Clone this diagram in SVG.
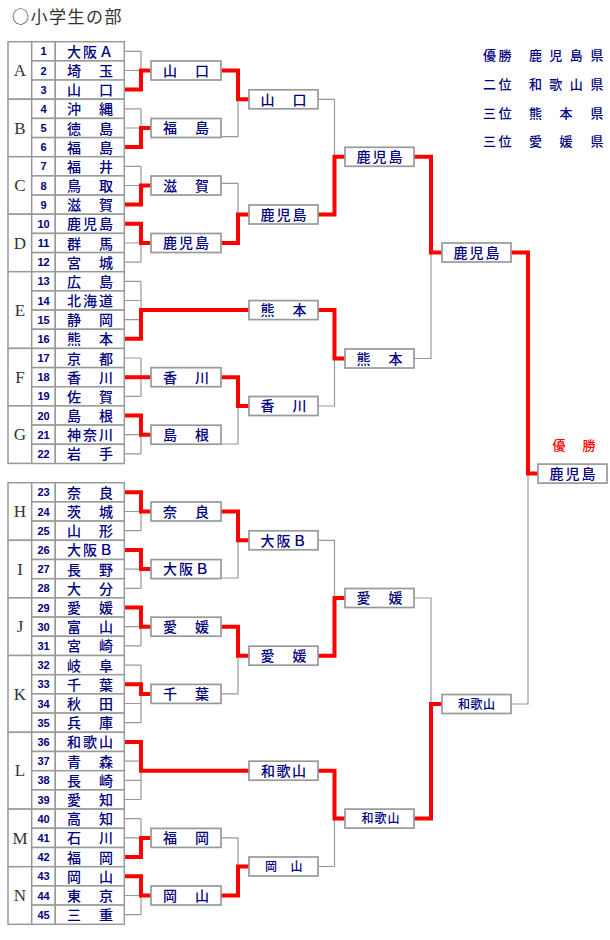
<svg xmlns="http://www.w3.org/2000/svg" width="610" height="940" viewBox="0 0 610 940">
<style>
.cell{fill:#fff;stroke:#999;stroke-width:1.5}
.box{fill:#fff;stroke:#999;stroke-width:1.7}
.num{font-family:"Liberation Sans",Arial,sans-serif;font-size:11px;font-weight:bold;fill:#000080;text-anchor:middle}
.nm{font-family:"Noto Sans CJK JP","Noto Sans CJK SC",sans-serif;font-size:14px;font-weight:500;fill:#000080;text-anchor:middle}
.sm{font-family:"Noto Sans CJK JP","Noto Sans CJK SC",sans-serif;font-size:12px;font-weight:500;fill:#000080;text-anchor:middle}
.grp{font-family:"Liberation Serif","Times New Roman",serif;font-size:17px;fill:#333;text-anchor:middle}
.lg{font-family:"Noto Sans CJK JP","Noto Sans CJK SC",sans-serif;font-size:13px;font-weight:500;fill:#000080;text-anchor:middle}
.g{fill:none;stroke:#999;stroke-width:1.2}
.r{fill:none;stroke:#f00;stroke-width:4;stroke-linejoin:miter}
</style>
<rect width="610" height="940" fill="#fff"/>
<text x="12" y="23" font-family="'Noto Sans CJK JP','Noto Sans CJK SC',sans-serif" font-size="17" letter-spacing="1.5" fill="#333">○小学生の部</text>
<g id="legend">
<text class="lg" y="60"><tspan x="489.5 505">優勝</tspan><tspan x="535.5 555.8 576.2 597">鹿児島県</tspan></text>
<text class="lg" y="89"><tspan x="489.5 505">二位</tspan><tspan x="535.5 555.8 576.2 597">和歌山県</tspan></text>
<text class="lg" y="118"><tspan x="489.5 505">三位</tspan><tspan x="535.5 566 597">熊本県</tspan></text>
<text class="lg" y="146"><tspan x="489.5 505">三位</tspan><tspan x="535.5 566 597">愛媛県</tspan></text>
</g>
<g id="connectors">
<path class="g" d="M124 51.3H141M124 70.5H141M124 89.6H141M141 51.3V89.6"/>
<path class="g" d="M124 108.8H141M124 128H141M124 147.1H141M141 108.8V147.1"/>
<path class="g" d="M124 166.3H141M124 185.5H141M124 204.6H141M141 166.3V204.6"/>
<path class="g" d="M124 223.8H141M124 243H141M124 262.2H141M141 223.8V262.2"/>
<path class="g" d="M124 281.3H141M124 300.5H141M124 319.7H141M124 338.8H141M141 281.3V338.8"/>
<path class="g" d="M124 358H141M124 377.2H141M124 396.3H141M141 358V396.3"/>
<path class="g" d="M124 415.5H141M124 434.7H141M124 453.9H141M141 415.5V453.9"/>
<path class="g" d="M124 492.3H141M124 511.5H141M124 530.7H141M141 492.3V530.7"/>
<path class="g" d="M124 549.9H141M124 569.1H141M124 588.3H141M141 549.9V588.3"/>
<path class="g" d="M124 607.5H141M124 626.7H141M124 645.9H141M141 607.5V645.9"/>
<path class="g" d="M124 665.1H141M124 684.3H141M124 703.5H141M124 722.7H141M141 665.1V722.7"/>
<path class="g" d="M124 741.9H141M124 761.1H141M124 780.3H141M124 799.5H141M141 741.9V799.5"/>
<path class="g" d="M124 818.7H141M124 837.9H141M124 857.1H141M141 818.7V857.1"/>
<path class="g" d="M124 876.3H141M124 895.5H141M124 914.7H141M141 876.3V914.7"/>
<path class="g" d="M221 136.7H238V99.3M221 183.3H238V214.5M221 444H238V406M221 578H238V540.3M221 693.9H238V655.7M221 837.9H238V866.5"/>
<path class="g" d="M318 99.3H334.5V156.8M318 406H334.5V358.5M318 540.3H334.5V598M318 866.5H334.5V818.6"/>
<path class="g" d="M414 358.5H431V252.5M414 598H431V704M511 704H528V473.6"/>
<path class="r" d="M124 89.6H141V70.5H151"/>
<path class="r" d="M124 147.1H141V128H151"/>
<path class="r" d="M124 204.6H141V185.5H151"/>
<path class="r" d="M124 223.8H141V243H151"/>
<path class="r" d="M124 338.8H141V310.1H249"/>
<path class="r" d="M124 377.2H151"/>
<path class="r" d="M124 415.5H141V434.7H151"/>
<path class="r" d="M124 492.3H141V511.5H151"/>
<path class="r" d="M124 549.9H141V569.1H151"/>
<path class="r" d="M124 607.5H141V626.7H151"/>
<path class="r" d="M124 684.3H141V693.9H151"/>
<path class="r" d="M124 741.9H141V770.7H249"/>
<path class="r" d="M124 857.1H141V837.9H151"/>
<path class="r" d="M124 876.3H141V895.5H151"/>
<path class="r" d="M221 70.5H238V99.3H249"/>
<path class="r" d="M221 243H238V214.5H249"/>
<path class="r" d="M221 377.2H238V406H249"/>
<path class="r" d="M221 511.5H238V540.3H249"/>
<path class="r" d="M221 626.7H238V655.7H249"/>
<path class="r" d="M221 895.5H238V866.5H249"/>
<path class="r" d="M318 214.5H334.5V156.8H345"/>
<path class="r" d="M318 310.1H334.5V358.5H345"/>
<path class="r" d="M318 655.7H334.5V598H345"/>
<path class="r" d="M318 770.7H334.5V818.6H345"/>
<path class="r" d="M414 156.8H431V252.5H442"/>
<path class="r" d="M414 818.6H431V704H442"/>
<path class="r" d="M511 252.5H528V473.6H538"/>
</g>
<g id="groups">
<g id="gA"><rect class="cell" x="8" y="41.7" width="23.7" height="57.5"/><text class="grp" x="20" y="76.1">A</text></g>
<g id="gB"><rect class="cell" x="8" y="99.2" width="23.7" height="57.5"/><text class="grp" x="20" y="133.6">B</text></g>
<g id="gC"><rect class="cell" x="8" y="156.7" width="23.7" height="57.5"/><text class="grp" x="20" y="191.1">C</text></g>
<g id="gD"><rect class="cell" x="8" y="214.2" width="23.7" height="57.5"/><text class="grp" x="20" y="248.6">D</text></g>
<g id="gE"><rect class="cell" x="8" y="271.7" width="23.7" height="76.7"/><text class="grp" x="20" y="315.7">E</text></g>
<g id="gF"><rect class="cell" x="8" y="348.4" width="23.7" height="57.5"/><text class="grp" x="20" y="382.8">F</text></g>
<g id="gG"><rect class="cell" x="8" y="405.9" width="23.7" height="57.5"/><text class="grp" x="20" y="440.3">G</text></g>
<g id="gH"><rect class="cell" x="8" y="482.7" width="23.7" height="57.6"/><text class="grp" x="20" y="517.1">H</text></g>
<g id="gI"><rect class="cell" x="8" y="540.3" width="23.7" height="57.6"/><text class="grp" x="20" y="574.7">I</text></g>
<g id="gJ"><rect class="cell" x="8" y="597.9" width="23.7" height="57.6"/><text class="grp" x="20" y="632.3">J</text></g>
<g id="gK"><rect class="cell" x="8" y="655.5" width="23.7" height="76.8"/><text class="grp" x="20" y="699.5">K</text></g>
<g id="gL"><rect class="cell" x="8" y="732.3" width="23.7" height="76.8"/><text class="grp" x="20" y="776.3">L</text></g>
<g id="gM"><rect class="cell" x="8" y="809.1" width="23.7" height="57.6"/><text class="grp" x="20" y="843.5">M</text></g>
<g id="gN"><rect class="cell" x="8" y="866.7" width="23.7" height="57.6"/><text class="grp" x="20" y="901.1">N</text></g>
</g>
<g id="teams">
<g id="t1"><rect class="cell" x="31.7" y="41.7" width="23.6" height="19.2"/><rect class="cell" x="55.3" y="41.7" width="69" height="19.2"/><text class="num" x="43.5" y="55.3">1</text><text class="nm" x="74 90 106" y="56.8">大阪Ａ</text></g>
<g id="t2"><rect class="cell" x="31.7" y="60.9" width="23.6" height="19.2"/><rect class="cell" x="55.3" y="60.9" width="69" height="19.2"/><text class="num" x="43.5" y="74.5">2</text><text class="nm" x="74 90 106" y="76">埼　玉</text></g>
<g id="t3"><rect class="cell" x="31.7" y="80" width="23.6" height="19.2"/><rect class="cell" x="55.3" y="80" width="69" height="19.2"/><text class="num" x="43.5" y="93.6">3</text><text class="nm" x="74 90 106" y="95.1">山　口</text></g>
<g id="t4"><rect class="cell" x="31.7" y="99.2" width="23.6" height="19.2"/><rect class="cell" x="55.3" y="99.2" width="69" height="19.2"/><text class="num" x="43.5" y="112.8">4</text><text class="nm" x="74 90 106" y="114.3">沖　縄</text></g>
<g id="t5"><rect class="cell" x="31.7" y="118.4" width="23.6" height="19.2"/><rect class="cell" x="55.3" y="118.4" width="69" height="19.2"/><text class="num" x="43.5" y="132">5</text><text class="nm" x="74 90 106" y="133.5">徳　島</text></g>
<g id="t6"><rect class="cell" x="31.7" y="137.6" width="23.6" height="19.2"/><rect class="cell" x="55.3" y="137.6" width="69" height="19.2"/><text class="num" x="43.5" y="151.1">6</text><text class="nm" x="74 90 106" y="152.6">福　島</text></g>
<g id="t7"><rect class="cell" x="31.7" y="156.7" width="23.6" height="19.2"/><rect class="cell" x="55.3" y="156.7" width="69" height="19.2"/><text class="num" x="43.5" y="170.3">7</text><text class="nm" x="74 90 106" y="171.8">福　井</text></g>
<g id="t8"><rect class="cell" x="31.7" y="175.9" width="23.6" height="19.2"/><rect class="cell" x="55.3" y="175.9" width="69" height="19.2"/><text class="num" x="43.5" y="189.5">8</text><text class="nm" x="74 90 106" y="191">鳥　取</text></g>
<g id="t9"><rect class="cell" x="31.7" y="195.1" width="23.6" height="19.2"/><rect class="cell" x="55.3" y="195.1" width="69" height="19.2"/><text class="num" x="43.5" y="208.6">9</text><text class="nm" x="74 90 106" y="210.1">滋　賀</text></g>
<g id="t10"><rect class="cell" x="31.7" y="214.2" width="23.6" height="19.2"/><rect class="cell" x="55.3" y="214.2" width="69" height="19.2"/><text class="num" x="43.5" y="227.8">10</text><text class="nm" x="74 90 106" y="229.3">鹿児島</text></g>
<g id="t11"><rect class="cell" x="31.7" y="233.4" width="23.6" height="19.2"/><rect class="cell" x="55.3" y="233.4" width="69" height="19.2"/><text class="num" x="43.5" y="247">11</text><text class="nm" x="74 90 106" y="248.5">群　馬</text></g>
<g id="t12"><rect class="cell" x="31.7" y="252.6" width="23.6" height="19.2"/><rect class="cell" x="55.3" y="252.6" width="69" height="19.2"/><text class="num" x="43.5" y="266.2">12</text><text class="nm" x="74 90 106" y="267.7">宮　城</text></g>
<g id="t13"><rect class="cell" x="31.7" y="271.7" width="23.6" height="19.2"/><rect class="cell" x="55.3" y="271.7" width="69" height="19.2"/><text class="num" x="43.5" y="285.3">13</text><text class="nm" x="74 90 106" y="286.8">広　島</text></g>
<g id="t14"><rect class="cell" x="31.7" y="290.9" width="23.6" height="19.2"/><rect class="cell" x="55.3" y="290.9" width="69" height="19.2"/><text class="num" x="43.5" y="304.5">14</text><text class="nm" x="74 90 106" y="306">北海道</text></g>
<g id="t15"><rect class="cell" x="31.7" y="310.1" width="23.6" height="19.2"/><rect class="cell" x="55.3" y="310.1" width="69" height="19.2"/><text class="num" x="43.5" y="323.7">15</text><text class="nm" x="74 90 106" y="325.2">静　岡</text></g>
<g id="t16"><rect class="cell" x="31.7" y="329.3" width="23.6" height="19.2"/><rect class="cell" x="55.3" y="329.3" width="69" height="19.2"/><text class="num" x="43.5" y="342.8">16</text><text class="nm" x="74 90 106" y="344.3">熊　本</text></g>
<g id="t17"><rect class="cell" x="31.7" y="348.4" width="23.6" height="19.2"/><rect class="cell" x="55.3" y="348.4" width="69" height="19.2"/><text class="num" x="43.5" y="362">17</text><text class="nm" x="74 90 106" y="363.5">京　都</text></g>
<g id="t18"><rect class="cell" x="31.7" y="367.6" width="23.6" height="19.2"/><rect class="cell" x="55.3" y="367.6" width="69" height="19.2"/><text class="num" x="43.5" y="381.2">18</text><text class="nm" x="74 90 106" y="382.7">香　川</text></g>
<g id="t19"><rect class="cell" x="31.7" y="386.8" width="23.6" height="19.2"/><rect class="cell" x="55.3" y="386.8" width="69" height="19.2"/><text class="num" x="43.5" y="400.3">19</text><text class="nm" x="74 90 106" y="401.8">佐　賀</text></g>
<g id="t20"><rect class="cell" x="31.7" y="405.9" width="23.6" height="19.2"/><rect class="cell" x="55.3" y="405.9" width="69" height="19.2"/><text class="num" x="43.5" y="419.5">20</text><text class="nm" x="74 90 106" y="421">島　根</text></g>
<g id="t21"><rect class="cell" x="31.7" y="425.1" width="23.6" height="19.2"/><rect class="cell" x="55.3" y="425.1" width="69" height="19.2"/><text class="num" x="43.5" y="438.7">21</text><text class="nm" x="74 90 106" y="440.2">神奈川</text></g>
<g id="t22"><rect class="cell" x="31.7" y="444.3" width="23.6" height="19.2"/><rect class="cell" x="55.3" y="444.3" width="69" height="19.2"/><text class="num" x="43.5" y="457.9">22</text><text class="nm" x="74 90 106" y="459.4">岩　手</text></g>
<g id="t23"><rect class="cell" x="31.7" y="482.7" width="23.6" height="19.2"/><rect class="cell" x="55.3" y="482.7" width="69" height="19.2"/><text class="num" x="43.5" y="496.3">23</text><text class="nm" x="74 90 106" y="497.8">奈　良</text></g>
<g id="t24"><rect class="cell" x="31.7" y="501.9" width="23.6" height="19.2"/><rect class="cell" x="55.3" y="501.9" width="69" height="19.2"/><text class="num" x="43.5" y="515.5">24</text><text class="nm" x="74 90 106" y="517">茨　城</text></g>
<g id="t25"><rect class="cell" x="31.7" y="521.1" width="23.6" height="19.2"/><rect class="cell" x="55.3" y="521.1" width="69" height="19.2"/><text class="num" x="43.5" y="534.7">25</text><text class="nm" x="74 90 106" y="536.2">山　形</text></g>
<g id="t26"><rect class="cell" x="31.7" y="540.3" width="23.6" height="19.2"/><rect class="cell" x="55.3" y="540.3" width="69" height="19.2"/><text class="num" x="43.5" y="553.9">26</text><text class="nm" x="74 90 106" y="555.4">大阪Ｂ</text></g>
<g id="t27"><rect class="cell" x="31.7" y="559.5" width="23.6" height="19.2"/><rect class="cell" x="55.3" y="559.5" width="69" height="19.2"/><text class="num" x="43.5" y="573.1">27</text><text class="nm" x="74 90 106" y="574.6">長　野</text></g>
<g id="t28"><rect class="cell" x="31.7" y="578.7" width="23.6" height="19.2"/><rect class="cell" x="55.3" y="578.7" width="69" height="19.2"/><text class="num" x="43.5" y="592.3">28</text><text class="nm" x="74 90 106" y="593.8">大　分</text></g>
<g id="t29"><rect class="cell" x="31.7" y="597.9" width="23.6" height="19.2"/><rect class="cell" x="55.3" y="597.9" width="69" height="19.2"/><text class="num" x="43.5" y="611.5">29</text><text class="nm" x="74 90 106" y="613">愛　媛</text></g>
<g id="t30"><rect class="cell" x="31.7" y="617.1" width="23.6" height="19.2"/><rect class="cell" x="55.3" y="617.1" width="69" height="19.2"/><text class="num" x="43.5" y="630.7">30</text><text class="nm" x="74 90 106" y="632.2">富　山</text></g>
<g id="t31"><rect class="cell" x="31.7" y="636.3" width="23.6" height="19.2"/><rect class="cell" x="55.3" y="636.3" width="69" height="19.2"/><text class="num" x="43.5" y="649.9">31</text><text class="nm" x="74 90 106" y="651.4">宮　崎</text></g>
<g id="t32"><rect class="cell" x="31.7" y="655.5" width="23.6" height="19.2"/><rect class="cell" x="55.3" y="655.5" width="69" height="19.2"/><text class="num" x="43.5" y="669.1">32</text><text class="nm" x="74 90 106" y="670.6">岐　阜</text></g>
<g id="t33"><rect class="cell" x="31.7" y="674.7" width="23.6" height="19.2"/><rect class="cell" x="55.3" y="674.7" width="69" height="19.2"/><text class="num" x="43.5" y="688.3">33</text><text class="nm" x="74 90 106" y="689.8">千　葉</text></g>
<g id="t34"><rect class="cell" x="31.7" y="693.9" width="23.6" height="19.2"/><rect class="cell" x="55.3" y="693.9" width="69" height="19.2"/><text class="num" x="43.5" y="707.5">34</text><text class="nm" x="74 90 106" y="709">秋　田</text></g>
<g id="t35"><rect class="cell" x="31.7" y="713.1" width="23.6" height="19.2"/><rect class="cell" x="55.3" y="713.1" width="69" height="19.2"/><text class="num" x="43.5" y="726.7">35</text><text class="nm" x="74 90 106" y="728.2">兵　庫</text></g>
<g id="t36"><rect class="cell" x="31.7" y="732.3" width="23.6" height="19.2"/><rect class="cell" x="55.3" y="732.3" width="69" height="19.2"/><text class="num" x="43.5" y="745.9">36</text><text class="nm" x="74 90 106" y="747.4">和歌山</text></g>
<g id="t37"><rect class="cell" x="31.7" y="751.5" width="23.6" height="19.2"/><rect class="cell" x="55.3" y="751.5" width="69" height="19.2"/><text class="num" x="43.5" y="765.1">37</text><text class="nm" x="74 90 106" y="766.6">青　森</text></g>
<g id="t38"><rect class="cell" x="31.7" y="770.7" width="23.6" height="19.2"/><rect class="cell" x="55.3" y="770.7" width="69" height="19.2"/><text class="num" x="43.5" y="784.3">38</text><text class="nm" x="74 90 106" y="785.8">長　崎</text></g>
<g id="t39"><rect class="cell" x="31.7" y="789.9" width="23.6" height="19.2"/><rect class="cell" x="55.3" y="789.9" width="69" height="19.2"/><text class="num" x="43.5" y="803.5">39</text><text class="nm" x="74 90 106" y="805">愛　知</text></g>
<g id="t40"><rect class="cell" x="31.7" y="809.1" width="23.6" height="19.2"/><rect class="cell" x="55.3" y="809.1" width="69" height="19.2"/><text class="num" x="43.5" y="822.7">40</text><text class="nm" x="74 90 106" y="824.2">高　知</text></g>
<g id="t41"><rect class="cell" x="31.7" y="828.3" width="23.6" height="19.2"/><rect class="cell" x="55.3" y="828.3" width="69" height="19.2"/><text class="num" x="43.5" y="841.9">41</text><text class="nm" x="74 90 106" y="843.4">石　川</text></g>
<g id="t42"><rect class="cell" x="31.7" y="847.5" width="23.6" height="19.2"/><rect class="cell" x="55.3" y="847.5" width="69" height="19.2"/><text class="num" x="43.5" y="861.1">42</text><text class="nm" x="74 90 106" y="862.6">福　岡</text></g>
<g id="t43"><rect class="cell" x="31.7" y="866.7" width="23.6" height="19.2"/><rect class="cell" x="55.3" y="866.7" width="69" height="19.2"/><text class="num" x="43.5" y="880.3">43</text><text class="nm" x="74 90 106" y="881.8">岡　山</text></g>
<g id="t44"><rect class="cell" x="31.7" y="885.9" width="23.6" height="19.2"/><rect class="cell" x="55.3" y="885.9" width="69" height="19.2"/><text class="num" x="43.5" y="899.5">44</text><text class="nm" x="74 90 106" y="901">東　京</text></g>
<g id="t45"><rect class="cell" x="31.7" y="905.1" width="23.6" height="19.2"/><rect class="cell" x="55.3" y="905.1" width="69" height="19.2"/><text class="num" x="43.5" y="918.7">45</text><text class="nm" x="74 90 106" y="920.2">三　重</text></g>
</g>
<g id="round1">
<g id="r1a"><rect class="box" x="151" y="61" width="70" height="19"/><text class="nm" x="170 186 202" y="75.8">山　口</text></g>
<g id="r1b"><rect class="box" x="151" y="118.5" width="70" height="19"/><text class="nm" x="170 186 202" y="133.3">福　島</text></g>
<g id="r1c"><rect class="box" x="151" y="176" width="70" height="19"/><text class="nm" x="170 186 202" y="190.8">滋　賀</text></g>
<g id="r1d"><rect class="box" x="151" y="233.5" width="70" height="19"/><text class="nm" x="170 186 202" y="248.3">鹿児島</text></g>
<g id="r1f"><rect class="box" x="151" y="367.7" width="70" height="19"/><text class="nm" x="170 186 202" y="382.5">香　川</text></g>
<g id="r1g"><rect class="box" x="151" y="425.2" width="70" height="19"/><text class="nm" x="170 186 202" y="440">島　根</text></g>
<g id="r1h"><rect class="box" x="151" y="502" width="70" height="19"/><text class="nm" x="170 186 202" y="516.8">奈　良</text></g>
<g id="r1i"><rect class="box" x="151" y="559.6" width="70" height="19"/><text class="nm" x="170 186 202" y="574.4">大阪Ｂ</text></g>
<g id="r1j"><rect class="box" x="151" y="617.2" width="70" height="19"/><text class="nm" x="170 186 202" y="632">愛　媛</text></g>
<g id="r1k"><rect class="box" x="151" y="684.4" width="70" height="19"/><text class="nm" x="170 186 202" y="699.2">千　葉</text></g>
<g id="r1m"><rect class="box" x="151" y="828.4" width="70" height="19"/><text class="nm" x="170 186 202" y="843.2">福　岡</text></g>
<g id="r1n"><rect class="box" x="151" y="886" width="70" height="19"/><text class="nm" x="170 186 202" y="900.8">岡　山</text></g>
</g>
<g id="round2">
<g id="r2a"><rect class="box" x="249" y="89.8" width="69" height="19"/><text class="nm" x="267.5 283.5 299.5" y="104.6">山　口</text></g>
<g id="r2b"><rect class="box" x="249" y="205" width="69" height="19"/><text class="nm" x="267.5 283.5 299.5" y="219.8">鹿児島</text></g>
<g id="r2c"><rect class="box" x="249" y="300.6" width="69" height="19"/><text class="nm" x="267.5 283.5 299.5" y="315.4">熊　本</text></g>
<g id="r2d"><rect class="box" x="249" y="396.5" width="69" height="19"/><text class="nm" x="267.5 283.5 299.5" y="411.3">香　川</text></g>
<g id="r2e"><rect class="box" x="249" y="530.8" width="69" height="19"/><text class="nm" x="267.5 283.5 299.5" y="545.6">大阪Ｂ</text></g>
<g id="r2f"><rect class="box" x="249" y="646.2" width="69" height="19"/><text class="nm" x="267.5 283.5 299.5" y="661">愛　媛</text></g>
<g id="r2g"><rect class="box" x="249" y="761.2" width="69" height="19"/><text class="nm" x="268 283.5 299" y="776">和歌山</text></g>
<g id="r2h"><rect class="box" x="249" y="857" width="69" height="19"/><text class="sm" x="271 283.5 296.5" y="871">岡　山</text></g>
</g>
<g id="round3">
<g id="r3a"><rect class="box" x="345" y="147.3" width="69" height="19"/><text class="nm" x="363.5 379.5 395.5" y="162.1">鹿児島</text></g>
<g id="r3b"><rect class="box" x="345" y="349" width="69" height="19"/><text class="nm" x="363.5 379.5 395.5" y="363.8">熊　本</text></g>
<g id="r3c"><rect class="box" x="345" y="588.5" width="69" height="19"/><text class="nm" x="363.5 379.5 395.5" y="603.3">愛　媛</text></g>
<g id="r3d"><rect class="box" x="345" y="809.1" width="69" height="19"/><text class="sm" x="367.5 380.5 393.5" y="823.1">和歌山</text></g>
</g>
<g id="round4">
<g id="r4a"><rect class="box" x="442" y="243" width="69" height="19"/><text class="nm" x="460.5 476.5 492.5" y="257.8">鹿児島</text></g>
<g id="r4b"><rect class="box" x="442" y="694.5" width="69" height="19"/><text class="sm" x="464 476.5 489" y="708.5">和歌山</text></g>
</g>
<g id="final">
<text x="559 589" y="450" font-family="'Noto Sans CJK JP','Noto Sans CJK SC',sans-serif" font-size="13" font-weight="500" fill="#f00" text-anchor="middle">優勝</text>
<rect class="box" x="538" y="464.1" width="69" height="19"/><text class="nm" x="556.5 572.5 588.5" y="478.9">鹿児島</text>
</g>
</svg>
